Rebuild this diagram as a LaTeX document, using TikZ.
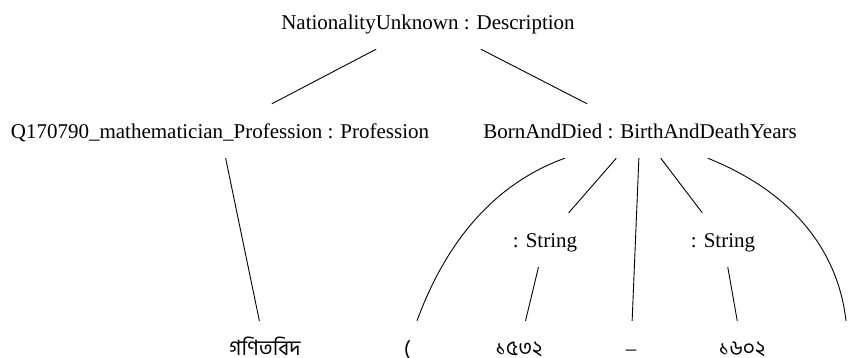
\documentclass[tikz,border=0pt]{standalone}
\usepackage{fontspec}
\setmainfont{Liberation Serif}
\newfontfamily\bnfont[Script=Bengali]{Hind Siliguri}
\begin{document}
\begin{tikzpicture}[x=1pt,y=-1pt,
  tn/.style={inner sep=0pt, minimum height=54pt, minimum width=30pt, text height=14.5pt, text depth=0pt, font=\fontsize{21}{25}\selectfont},
  bn/.style={tn, font=\fontsize{21}{25}\selectfont\bnfont},
  edge/.style={draw=black, line width=0.9pt}]
\useasboundingbox (0,0) rectangle (850,358);
\node[tn] (top) at (428,22) {NationalityUnknown : Description};
\node[tn] (prof) at (220,131) {Q170790\_mathematician\_Profession : Profession};
\node[tn] (born) at (640,131) {BornAndDied : BirthAndDeathYears};
\node[tn] (str1) at (545,240) {: String};
\node[tn] (str2) at (723,240) {: String};
\node[bn] (l1) at (265,348) {গণিতবিদ};
\node[bn] (lp) at (407,348) {(};
\node[bn] (y1) at (519,348) {১৫৩২};
\node[tn] (dash) at (631,348) {–};
\node[bn] (y2) at (742,348) {১৬০২};
\coordinate (rp) at (846,321);
\draw[edge] (top) -- (prof);
\draw[edge] (top) -- (born);
\draw[edge] (prof) -- (l1);
\draw[edge] (born) .. controls (488,186) and (443,250) .. (lp);
\draw[edge] (born) -- (str1);
\draw[edge] (born) -- (dash);
\draw[edge] (born) -- (str2);
\draw[edge] (born) .. controls (792,192) and (838,250) .. (rp);
\draw[edge] (str1) -- (y1);
\draw[edge] (str2) -- (y2);
\end{tikzpicture}
\end{document}
